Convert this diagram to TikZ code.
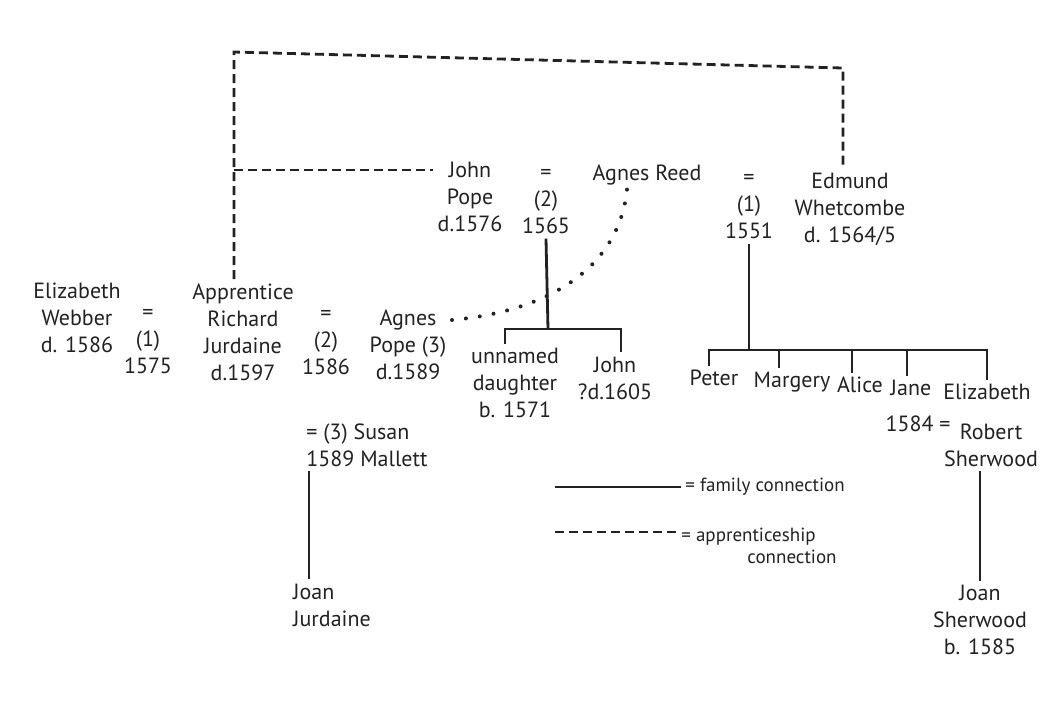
\documentclass[tikz,border=0pt]{standalone}
\usepackage{fontspec}
\setmainfont{PT Sans}
\definecolor{ink}{HTML}{222222}

\begin{document}
\begin{tikzpicture}[x=0.5pt, y=-0.5pt,
    person/.style={align=center, inner sep=2pt, text=ink, font=\fontsize{11}{13.5}\selectfont},
    legendtext/.style={align=left, inner sep=2pt, text=ink, font=\fontsize{9.5}{11}\selectfont},
    famline/.style={draw=ink, line width=1.4pt},
    appr/.style={draw=ink, line width=1.4pt, dash pattern=on 4.5pt off 2.5pt},
    dots/.style={draw=ink, line width=2pt, line cap=round, dash pattern=on 0pt off 7pt}]
    \fill[white] (0,0) rectangle (1057,709);
    \useasboundingbox (0,0) rectangle (1057,709);

    % 上の段
    \node[person] (jpope) at (470,197) {John\\Pope\\d.1576};
    \node[person] (m2) at (546,202) {=\\(2)\\1565};
    \node[person] (areed) at (647,175) {Agnes Reed};
    \node[person] (m1) at (749,207) {=\\(1)\\1551};
    \node[person] (ewhet) at (850,209) {Edmund\\Whetcombe\\d. 1564/5};

    % 中の段
    \node[person] (ewebber) at (77,318) {Elizabeth\\Webber\\d. 1586};
    \node[person] (m3) at (148,342) {=\\(1)\\1575};
    \node[person] (rjurd) at (243,332) {Apprentice\\Richard\\Jurdaine\\d.1597};
    \node[person] (m4) at (326,343) {=\\(2)\\1586};
    \node[person] (apope) at (408,345) {Agnes\\Pope (3)\\d.1589};
    \node[person, align=left] (susan) at (367,445) {= (3) Susan\\1589 Mallett};

    % 子ども
    \node[person] (daughter) at (515,383) {unnamed\\daughter\\b. 1571};
    \node[person] (john2) at (615,378) {John\\?d.1605};
    \node[person] (peter) at (714,378) {Peter};
    \node[person] (margery) at (792,382) {Margery};
    \node[person] (alice) at (860,385) {Alice};
    \node[person] (jane) at (911,388) {Jane};
    \node[person] (elizw) at (987,392) {Elizabeth};
    \node[person] (m5) at (918,424) {1584 =};
    \node[person] (rsher) at (991,445) {Robert\\Sherwood};

    % 孫
    \node[person, align=left] (jjurd) at (332,605) {Joan\\Jurdaine};
    \node[person] (jsher) at (980,620) {Joan\\Sherwood\\b. 1585};

    % 家族の線
    \coordinate (br1) at (548,329);
    \coordinate (br2) at (749,350);
    \draw[famline] (m2.south) -- (br1);
    \draw[famline] ([xshift=-5pt]daughter.north) |- (br1) -| ([xshift=3pt]john2.north);
    \draw[famline] (m1.south) -- (br2);
    \draw[famline] ([xshift=-2.5pt]peter.north) |- (br2) -| (elizw.north);
    \draw[famline] ([xshift=-6.5pt]margery.north) -- ([xshift=-6.5pt]margery.north |- br2);
    \draw[famline] ([xshift=-4pt]alice.north) -- ([xshift=-4pt]alice.north |- br2);
    \draw[famline] ([xshift=-2pt]jane.north) -- ([xshift=-2pt]jane.north |- br2);
    \draw[famline] (jsher.north |- rsher.south) -- (jsher.north);
    \draw[famline] ([xshift=3.5pt]susan.south west) -- ([xshift=3.5pt]susan.south west |- jjurd.north);

    % 点線
    \coordinate (dstart) at (452,320);
    \draw[dots] (dstart) .. controls (560,310) and (620,260) .. ([xshift=-10pt]areed.south);

    % 徒弟の線
    \coordinate (ctl) at (234,52);
    \coordinate (ctr) at (843,68);
    \coordinate (cin) at (234,170);
    \draw[appr] (rjurd.north -| ctl) -- (ctl) -- (ctr) -- (ewhet.north -| ctr);
    \draw[appr] (cin) -- (cin -| jpope.west);

    % 凡例
    \node[legendtext, anchor=west] (famtxt) at (681,487) {= family connection};
    \node[legendtext, anchor=west] (apptxt) at (677,546) {= apprenticeship\\\hspace*{33pt}connection};
    \coordinate (lgf) at (555,487);
    \coordinate (lga) at (555,532);
    \draw[famline] (lgf) -- (lgf -| famtxt.west);
    \draw[appr] (lga) -- (lga -| apptxt.west);
\end{tikzpicture}
\end{document}
